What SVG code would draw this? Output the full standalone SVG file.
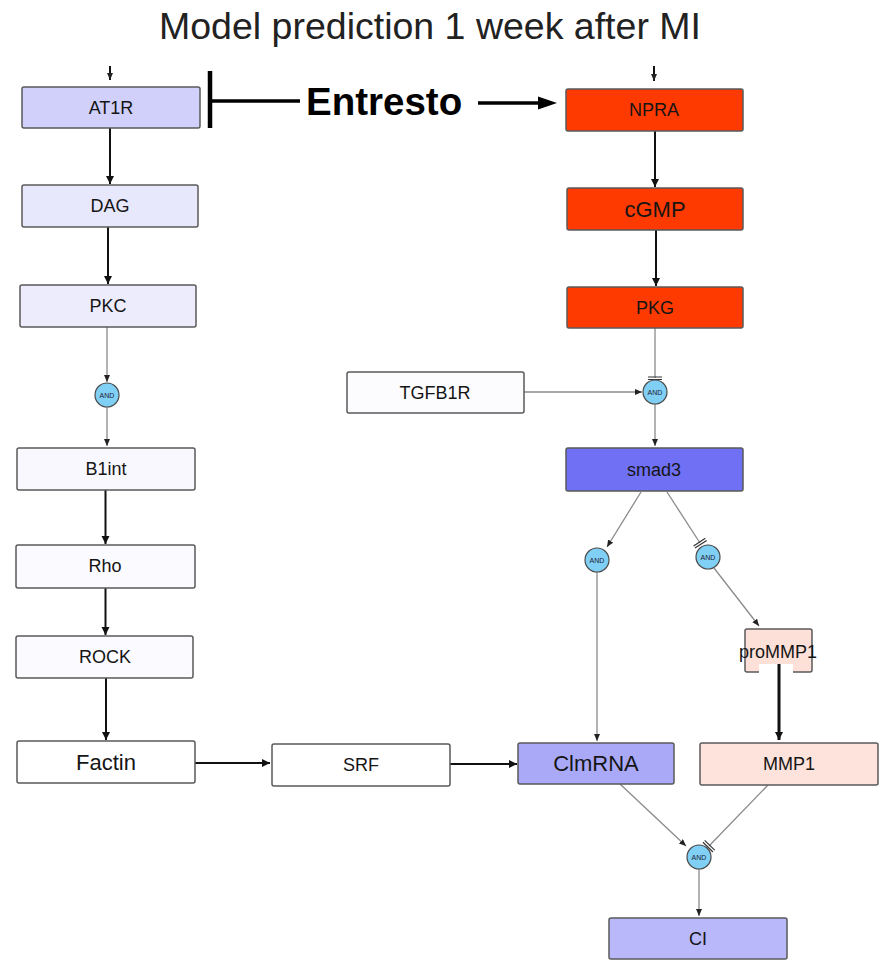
<svg xmlns="http://www.w3.org/2000/svg" width="885" height="961" viewBox="0 0 885 961">
<style>
.n rect{stroke:#5a5a5a;stroke-width:1.5}
.n rect.mask{stroke:none;fill:#fff}
.n text{font-family:"Liberation Sans",Arial,sans-serif;font-size:18px;fill:#151515;text-anchor:middle}
.n text.big{font-size:22px}
.and circle{fill:#80cff5;stroke:#4a4a4a;stroke-width:1.2}
.and text{font-family:"Liberation Sans",Arial,sans-serif;font-size:7px;fill:#223;text-anchor:middle}
.k{stroke:#111;stroke-width:2;fill:none}
.g{stroke:#8a8a8a;stroke-width:1.3;fill:none}
</style>
<defs>
<marker id="ak" markerUnits="userSpaceOnUse" markerWidth="10" markerHeight="10" refX="8" refY="4" orient="auto"><path d="M0,0 L8,4 L0,8 z" fill="#111"/></marker>
<marker id="ag" markerUnits="userSpaceOnUse" markerWidth="10" markerHeight="10" refX="7" refY="3" orient="auto"><path d="M0,0 L7,3 L0,6 z" fill="#222"/></marker>
<marker id="tb" markerUnits="userSpaceOnUse" markerWidth="6" markerHeight="18" refX="2" refY="8" orient="auto"><path d="M1,1 V15 M3.5,1 V15" stroke="#333" stroke-width="1.2"/></marker>
</defs>
<rect width="885" height="961" fill="#fff"/>
<text x="430" y="39" font-family="'Liberation Sans',Arial,sans-serif" font-size="37.5" fill="#222" text-anchor="middle">Model prediction 1 week after MI</text>

<g id="connectors">
<line class="k" x1="110" y1="66" x2="110" y2="80" marker-end="url(#ag)" stroke-width="1.3"/>
<line class="k" x1="654" y1="66" x2="654" y2="81" marker-end="url(#ag)" stroke-width="1.3"/>
<line class="k" x1="110" y1="128" x2="110" y2="184" marker-end="url(#ak)"/>
<line class="k" x1="108" y1="227" x2="108" y2="284" marker-end="url(#ak)"/>
<line class="g" x1="107" y1="327" x2="107" y2="382" marker-end="url(#ag)"/>
<line class="g" x1="107" y1="407" x2="107" y2="446" marker-end="url(#ag)"/>
<line class="k" x1="105.5" y1="490" x2="105.5" y2="544" marker-end="url(#ak)"/>
<line class="k" x1="105.5" y1="588" x2="105.5" y2="635" marker-end="url(#ak)"/>
<line class="k" x1="106" y1="678" x2="106" y2="740" marker-end="url(#ak)"/>
<line class="k" x1="195" y1="763" x2="270" y2="763" marker-end="url(#ak)"/>
<line class="k" x1="450" y1="764" x2="517" y2="764" marker-end="url(#ak)"/>
<line class="k" x1="655" y1="131" x2="655" y2="187" marker-end="url(#ak)"/>
<line class="k" x1="656" y1="230" x2="656" y2="286" marker-end="url(#ak)"/>
<line class="g" x1="655" y1="328" x2="655" y2="378" marker-end="url(#tb)"/>
<line class="g" x1="524" y1="392" x2="642" y2="392" marker-end="url(#ag)"/>
<line class="g" x1="655" y1="404" x2="655" y2="446" marker-end="url(#ag)" stroke="#666"/>
<line class="g" x1="641" y1="492" x2="607" y2="547" marker-end="url(#ag)"/>
<line class="g" x1="667" y1="492" x2="700" y2="543" marker-end="url(#tb)"/>
<line class="g" x1="597" y1="572" x2="597" y2="741" marker-end="url(#ag)"/>
<line class="g" x1="714" y1="568" x2="759" y2="626" marker-end="url(#ag)"/>
<line class="g" x1="620" y1="784" x2="686" y2="846" marker-end="url(#ag)"/>
<line class="g" x1="768" y1="785" x2="709" y2="846" marker-end="url(#tb)"/>
<line class="g" x1="699" y1="869" x2="699" y2="916" marker-end="url(#ag)" stroke="#666"/>
<line x1="210" y1="71" x2="210" y2="128" stroke="#000" stroke-width="4.5"/>
<line x1="210" y1="101" x2="300" y2="101" stroke="#000" stroke-width="3.5"/>
<line x1="478" y1="103" x2="540" y2="103" stroke="#000" stroke-width="3.5"/>
<polygon points="538,96.5 557,103 538,109.5" fill="#000"/>
</g>

<g id="entresto"><text x="306" y="115" font-family="'Liberation Sans',Arial,sans-serif" font-size="38.5" font-weight="bold" fill="#000">Entresto</text></g>

<g id="AT1R" class="n"><rect x="22" y="87" width="178" height="41" rx="2" fill="#d0d0fb"/><text x="111" y="114">AT1R</text></g>
<g id="DAG" class="n"><rect x="22" y="185" width="176" height="42" rx="2" fill="#e8e8fd"/><text x="110" y="212">DAG</text></g>
<g id="PKC" class="n"><rect x="20" y="285" width="176" height="42" rx="2" fill="#ececfd"/><text x="108" y="312">PKC</text></g>
<g id="B1int" class="n"><rect x="17" y="448" width="178" height="42" rx="2" fill="#f8f8fe"/><text x="106" y="475">B1int</text></g>
<g id="Rho" class="n"><rect x="16" y="545" width="179" height="43" rx="2" fill="#fafaff"/><text x="105" y="572">Rho</text></g>
<g id="ROCK" class="n"><rect x="16" y="636" width="177" height="42" rx="2" fill="#fafaff"/><text x="105" y="663">ROCK</text></g>
<g id="Factin" class="n"><rect x="17" y="741" width="178" height="42" rx="2" fill="#ffffff"/><text class="big" x="106" y="770">Factin</text></g>
<g id="SRF" class="n"><rect x="272" y="744" width="178" height="42" rx="2" fill="#ffffff"/><text x="361" y="771">SRF</text></g>
<g id="ClmRNA" class="n"><rect x="518" y="743" width="156" height="41" rx="2" fill="#a9a9f8"/><text class="big" x="596" y="771">ClmRNA</text></g>
<g id="MMP1" class="n"><rect x="700" y="743" width="178" height="42" rx="2" fill="#fde3dc"/><text x="789" y="770">MMP1</text></g>
<g id="CI" class="n"><rect x="609" y="918" width="178" height="41" rx="2" fill="#b8b8fa"/><text x="698" y="945">CI</text></g>
<g id="TGFB1R" class="n"><rect x="347" y="372" width="177" height="41" rx="2" fill="#fcfcff"/><text x="435" y="399">TGFB1R</text></g>
<g id="smad3" class="n"><rect x="566" y="448" width="177" height="43" rx="2" fill="#7070f5"/><text x="654" y="476">smad3</text></g>
<g id="NPRA" class="n"><rect x="566" y="89" width="177" height="42" rx="2" fill="#ff3a00"/><text x="654" y="116">NPRA</text></g>
<g id="cGMP" class="n"><rect x="567" y="188" width="176" height="42" rx="2" fill="#ff3a00"/><text class="big" x="655" y="217">cGMP</text></g>
<g id="PKG" class="n"><rect x="567" y="287" width="176" height="41" rx="2" fill="#ff3a00"/><text x="655" y="314">PKG</text></g>
<g id="proMMP1" class="n"><rect x="745" y="629" width="67" height="43" rx="2" fill="#fde0d8"/><rect class="mask" x="759" y="664" width="34" height="9.5"/><text x="778" y="658">proMMP1</text></g>
<g id="proMMP1-link"><line x1="779" y1="664" x2="779" y2="740" stroke="#111" stroke-width="3" marker-end="url(#ak)"/></g>

<g id="and1" class="and"><circle cx="107" cy="395" r="12"/><text x="107" y="397.5">AND</text></g>
<g id="and2" class="and"><circle cx="655" cy="392" r="12"/><text x="655" y="394.5">AND</text></g>
<g id="and3" class="and"><circle cx="597" cy="560" r="12"/><text x="597" y="562.5">AND</text></g>
<g id="and4" class="and"><circle cx="708" cy="557" r="12"/><text x="708" y="559.5">AND</text></g>
<g id="and5" class="and"><circle cx="699" cy="857" r="12"/><text x="699" y="859.5">AND</text></g>
</svg>
